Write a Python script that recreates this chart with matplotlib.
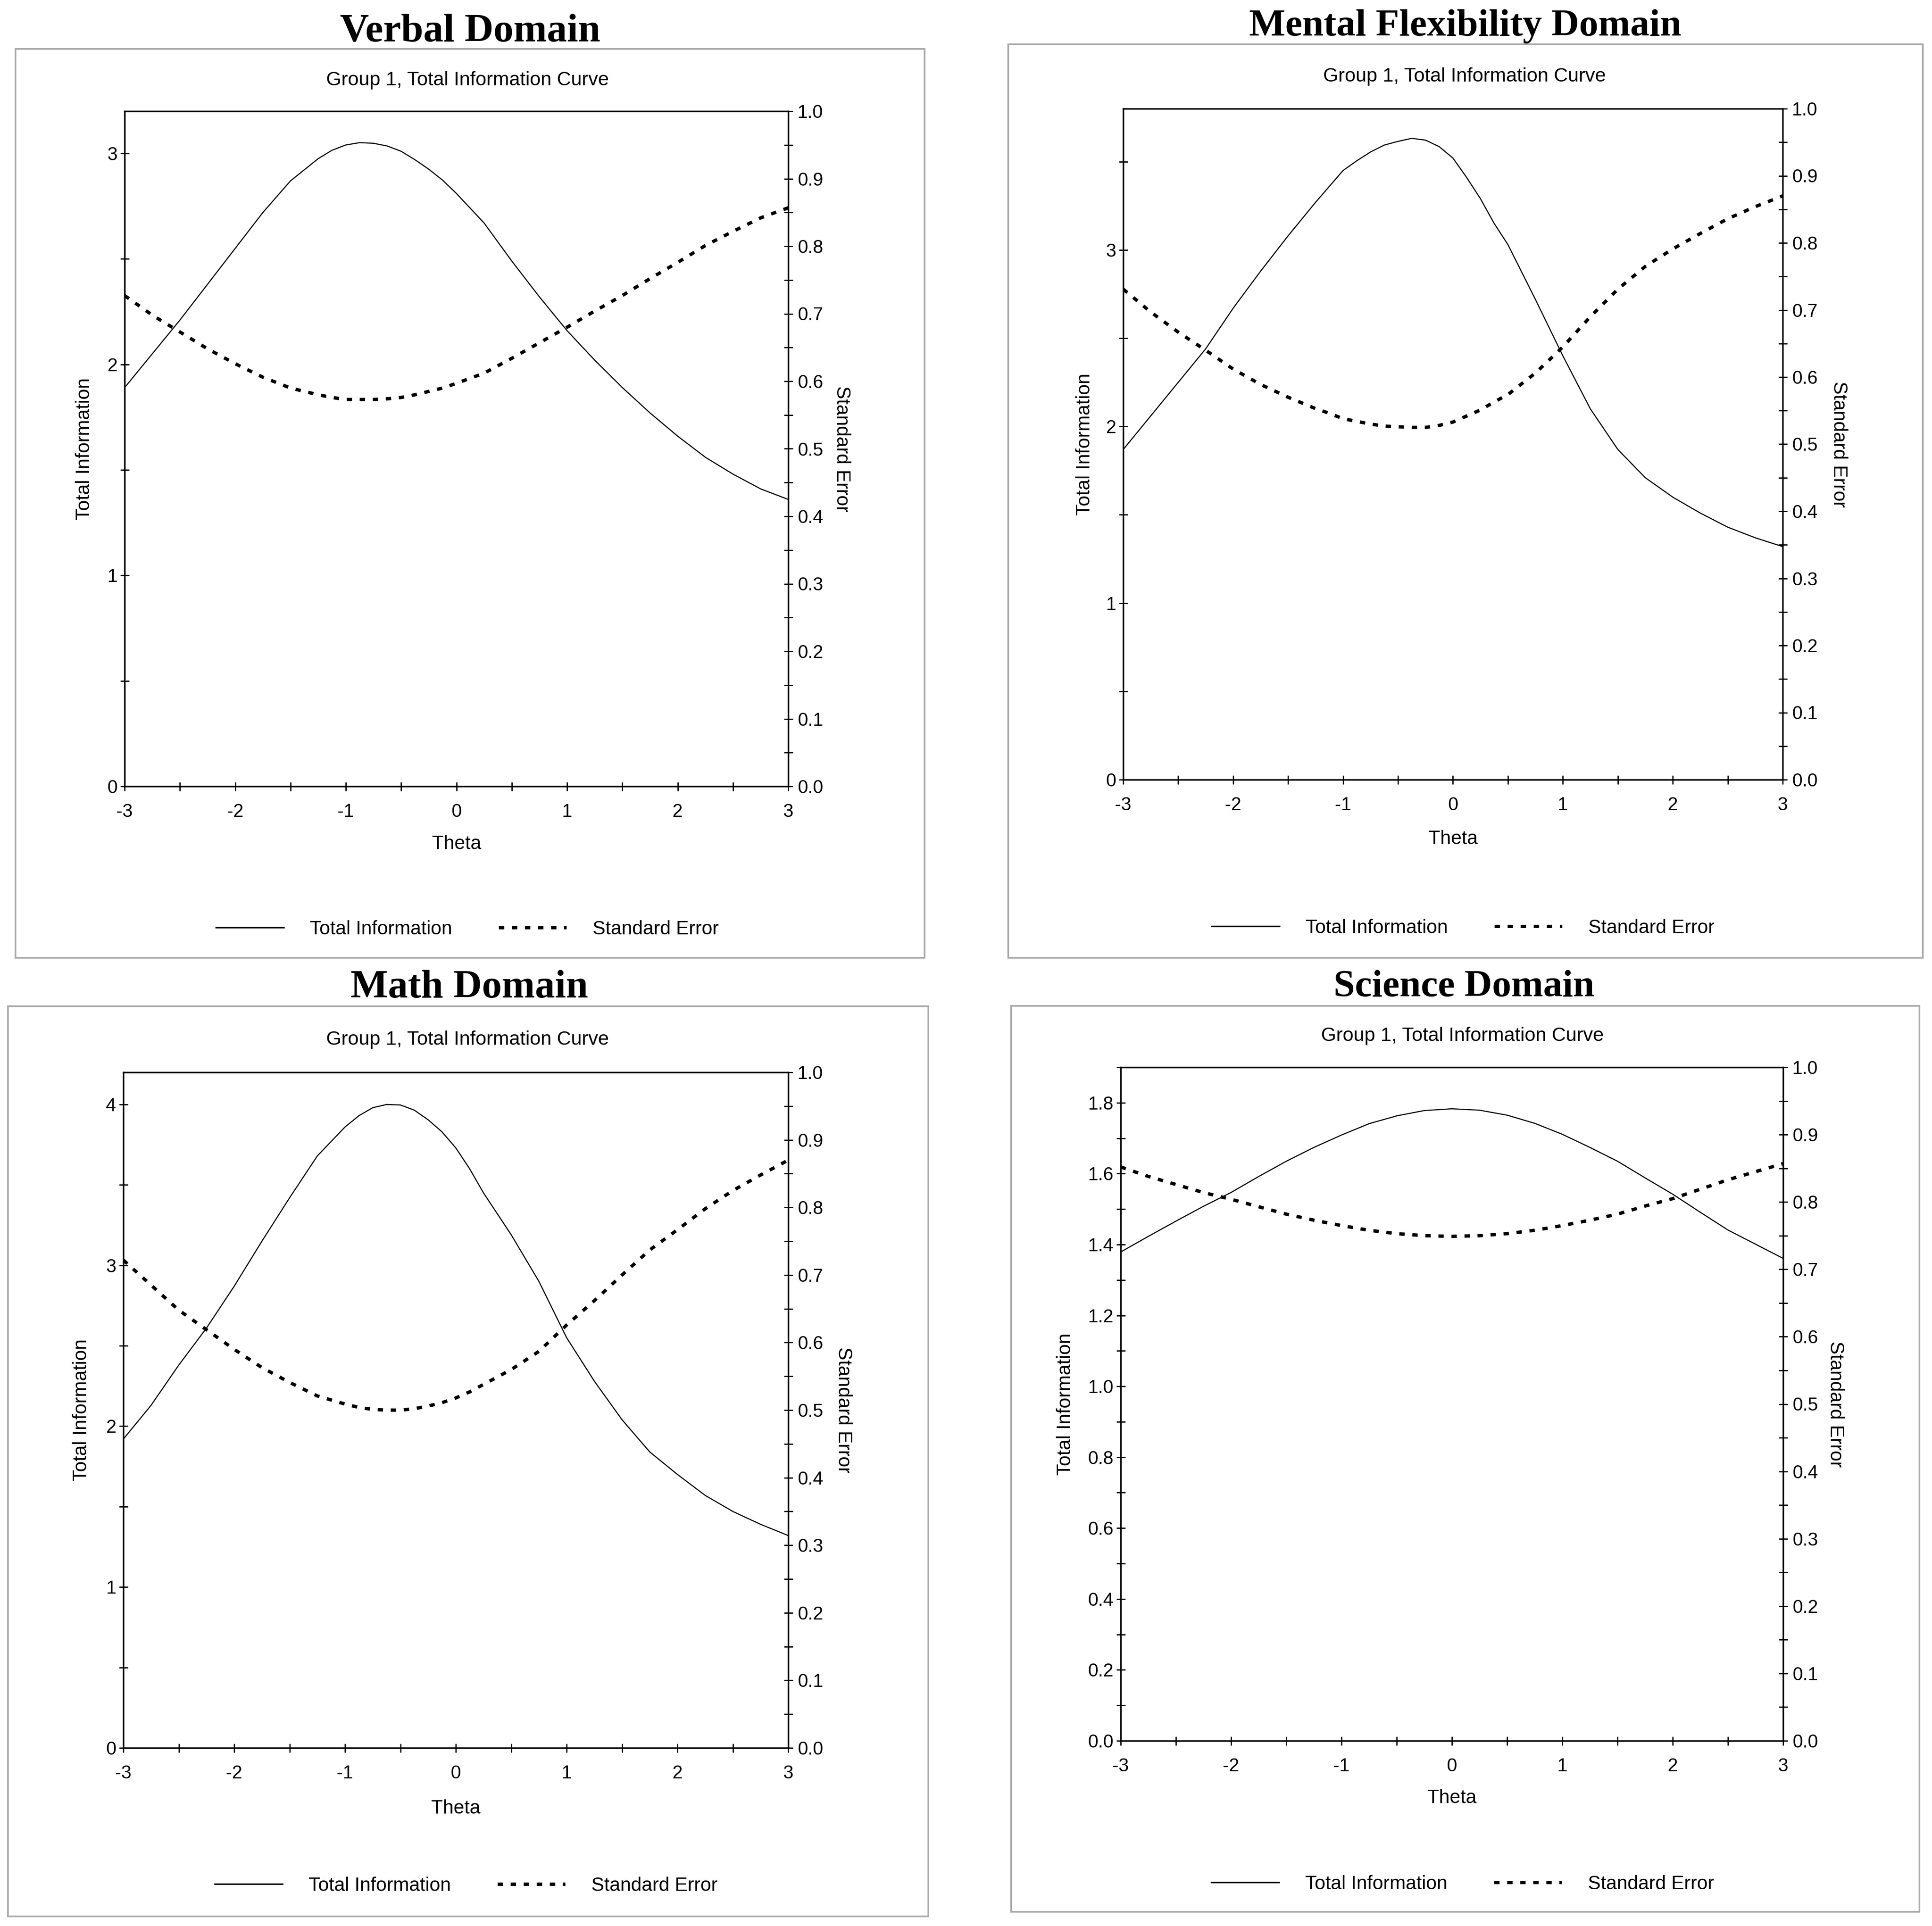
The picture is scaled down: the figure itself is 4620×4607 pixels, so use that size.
import matplotlib
matplotlib.use("Agg")
import matplotlib.pyplot as plt
from matplotlib import font_manager as fm
from matplotlib.patches import Rectangle
from matplotlib.lines import Line2D
from matplotlib.ticker import MultipleLocator, FormatStrFormatter

# ---------------- data ----------------
verbal_theta = [-3.0, -2.75, -2.5, -2.25, -2.0, -1.75, -1.5, -1.25, -1.125, -1.0, -0.875, -0.75,
                -0.625, -0.5, -0.375, -0.25, -0.125, 0.0, 0.25, 0.5, 0.75, 1.0, 1.25, 1.5,
                1.75, 2.0, 2.25, 2.5, 2.75, 3.0]
verbal_info = [1.89, 2.05, 2.21, 2.38, 2.55, 2.72, 2.87, 2.975, 3.015, 3.04, 3.051, 3.048,
               3.035, 3.01, 2.97, 2.925, 2.873, 2.81, 2.67, 2.49, 2.32, 2.16, 2.02, 1.89,
               1.77, 1.66, 1.56, 1.48, 1.41, 1.36]
verbal_se = [0.727, 0.698, 0.673, 0.648, 0.626, 0.606, 0.590, 0.580, 0.576, 0.573, 0.573, 0.573,
             0.574, 0.576, 0.580, 0.585, 0.590, 0.597, 0.612, 0.634, 0.657, 0.680, 0.704, 0.727,
             0.752, 0.776, 0.801, 0.822, 0.842, 0.857]

mental_theta = [-3.0, -2.75, -2.5, -2.25, -2.0, -1.75, -1.5, -1.25, -1.125, -1.0, -0.875, -0.75,
                -0.625, -0.5, -0.375, -0.25, -0.125, 0.0, 0.125, 0.25, 0.375, 0.5, 0.75, 1.0,
                1.25, 1.5, 1.75, 2.0, 2.25, 2.5, 2.75, 3.0]
mental_info = [1.87, 2.06, 2.25, 2.44, 2.67, 2.88, 3.08, 3.27, 3.36, 3.45, 3.505, 3.555,
               3.594, 3.615, 3.632, 3.622, 3.585, 3.52, 3.41, 3.29, 3.15, 3.03, 2.72, 2.40,
               2.10, 1.87, 1.71, 1.60, 1.51, 1.43, 1.37, 1.32]
mental_se = [0.731, 0.697, 0.667, 0.640, 0.612, 0.589, 0.570, 0.553, 0.546, 0.538, 0.534, 0.530,
             0.527, 0.526, 0.525, 0.525, 0.528, 0.533, 0.542, 0.551, 0.563, 0.574, 0.606, 0.645,
             0.690, 0.731, 0.765, 0.791, 0.814, 0.836, 0.854, 0.870]

math_theta = [-3.0, -2.75, -2.5, -2.25, -2.0, -1.75, -1.5, -1.25, -1.0, -0.875, -0.75, -0.625,
              -0.5, -0.375, -0.25, -0.125, 0.0, 0.125, 0.25, 0.5, 0.75, 1.0, 1.25, 1.5,
              1.75, 2.0, 2.25, 2.5, 2.75, 3.0]
math_info = [1.92, 2.13, 2.38, 2.61, 2.87, 3.15, 3.42, 3.68, 3.86, 3.93, 3.98, 4.00,
             3.997, 3.965, 3.905, 3.83, 3.73, 3.60, 3.45, 3.19, 2.90, 2.55, 2.28, 2.04,
             1.84, 1.70, 1.57, 1.47, 1.39, 1.32]
math_se = [0.722, 0.685, 0.648, 0.619, 0.590, 0.563, 0.541, 0.521, 0.509, 0.504, 0.501, 0.500,
           0.500, 0.502, 0.506, 0.511, 0.518, 0.527, 0.538, 0.560, 0.587, 0.626, 0.662, 0.700,
           0.737, 0.767, 0.798, 0.825, 0.848, 0.870]

science_theta = [-3.0, -2.75, -2.5, -2.25, -2.0, -1.75, -1.5, -1.25, -1.0, -0.75, -0.5, -0.25,
                 0.0, 0.25, 0.5, 0.75, 1.0, 1.25, 1.5, 1.75, 2.0, 2.25, 2.5, 2.75, 3.0]
science_info = [1.379, 1.423, 1.466, 1.508, 1.547, 1.592, 1.635, 1.674, 1.709, 1.741, 1.763, 1.778,
                1.783, 1.779, 1.765, 1.742, 1.711, 1.674, 1.635, 1.588, 1.542, 1.491, 1.441, 1.401, 1.361]
science_se = [0.852, 0.838, 0.826, 0.814, 0.804, 0.793, 0.782, 0.773, 0.765, 0.758, 0.753, 0.750,
              0.749, 0.750, 0.753, 0.758, 0.765, 0.773, 0.782, 0.794, 0.805, 0.819, 0.833, 0.845, 0.857]

titles = ["Verbal Domain", "Mental Flexibility Domain", "Math Domain", "Science Domain"]
subtitle = "Group 1, Total Information Curve"
x_label = "Theta"
left_label = "Total Information"
right_label = "Standard Error"
legend_labels = ["Total Information", "Standard Error"]

theta_series = [verbal_theta, mental_theta, math_theta, science_theta]
info_series = [verbal_info, mental_info, math_info, science_info]
se_series = [verbal_se, mental_se, math_se, science_se]

# left-axis scale per panel: (ymax, major step, minor step, label format)
left_scales = [(3.2, 1, 0.5, "%d"), (3.8, 1, 0.5, "%d"),
               (4.2, 1, 0.5, "%d"), (1.9, 0.2, 0.1, "%.1f")]

# ---------------- layout (pixels, origin top-left) ----------------
W, H, DPI = 4620, 4607, 100
frames = [(37, 117, 2211, 2291), (2411, 106, 4598, 2291),
          (19, 2407, 2220, 4584), (2418, 2406, 4590, 4573)]
axes_px = [(298, 266, 1885, 1881), (2686, 260, 4263, 1865),
           (295, 2565, 1885, 4181), (2680, 2553, 4264, 4164)]
title_pos = [(1124, 99), (3504, 85), (1122, 2386), (3501, 2383)]
title_size = [69, 66, 68.5, 66]
subtitle_pos = [(1118, 192), (3502, 183), (1118, 2487), (3497, 2478)]
legend_pos = [(1118, 2223), (3499, 2220), (1115, 4511), (3498, 4507)]
label_off = [(-96, 128, 138), (-92, 134, 142), (-100, 132, 145), (-132, 125, 137)]


def has_font(name):
    try:
        fm.findfont(fm.FontProperties(family=name), fallback_to_default=False)
        return True
    except Exception:
        return False


if has_font("Liberation Sans Narrow"):
    sans = "Liberation Sans Narrow"
    k = 1.0
else:
    sans = "Liberation Sans"
    k = 0.86

plt.rcParams["font.family"] = [sans, "DejaVu Sans"]
plt.rcParams["axes.unicode_minus"] = False

fs_tick = 37 * k
fs_text = 38.5 * k
fs_px = fs_text * DPI / 72.0

fig = plt.figure(figsize=(W / DPI, H / DPI), dpi=DPI)
fig.patch.set_facecolor("white")

PX = 72.0 / DPI  # points per pixel
spine_lw = 3.4 * PX
solid_lw = 2.6 * PX
dash_lw = 8.0 * PX
dash_pat = (1.6, 2.3)


def fx(x):
    return x / W


def fy(y):
    return 1 - y / H


for i in range(4):
    l, t, r, b = frames[i]
    fig.add_artist(Rectangle((fx(l), fy(b)), (r - l) / W, (b - t) / H,
                             transform=fig.transFigure, fill=False,
                             edgecolor="#a9a9a9", lw=4 * PX))

    al, at, ar, ab = axes_px[i]
    aw, ah = ar - al, ab - at
    ax = fig.add_axes([fx(al), fy(ab), aw / W, ah / H])
    ax2 = ax.twinx()

    ax.plot(theta_series[i], info_series[i], color="black", lw=solid_lw,
            solid_joinstyle="round")
    ax2.plot(theta_series[i], se_series[i], color="black", lw=dash_lw,
             dashes=dash_pat, dash_capstyle="butt")

    ymax, maj, mnr, fmt = left_scales[i]
    ax.set_xlim(-3, 3)
    ax.set_ylim(0, ymax)
    ax2.set_ylim(0, 1.0)

    ax.xaxis.set_major_locator(MultipleLocator(1))
    ax.xaxis.set_minor_locator(MultipleLocator(0.5))
    ax.yaxis.set_major_locator(MultipleLocator(maj))
    ax.yaxis.set_minor_locator(MultipleLocator(mnr))
    ax.yaxis.set_major_formatter(FormatStrFormatter(fmt))
    ax.xaxis.set_major_formatter(FormatStrFormatter("%d"))
    ax2.yaxis.set_major_locator(MultipleLocator(0.1))
    ax2.yaxis.set_minor_locator(MultipleLocator(0.05))
    ax2.yaxis.set_major_formatter(FormatStrFormatter("%.1f"))

    for a in (ax, ax2):
        for s in a.spines.values():
            s.set_linewidth(spine_lw)
            s.set_color("black")

    tick_len = 21 * PX
    tick_w = 3.0 * PX
    ax.tick_params(axis="x", which="both", direction="inout", length=tick_len,
                   width=tick_w, labelsize=fs_tick, pad=22, top=False)
    ax.tick_params(axis="y", which="both", direction="inout", length=tick_len,
                   width=tick_w, labelsize=fs_tick, pad=4.7, right=False)
    ax2.tick_params(axis="y", which="both", direction="inout", length=tick_len,
                    width=tick_w, labelsize=fs_tick, pad=8.3)

    lo, ro, bo = label_off[i]
    ax.set_ylabel(left_label, fontsize=fs_text, va="center", ha="center")
    ax.yaxis.set_label_coords(lo / aw, 0.5)
    ax2.set_ylabel(right_label, fontsize=fs_text, rotation=270, va="center", ha="center")
    ax2.yaxis.set_label_coords(1 + ro / aw, 0.5)
    ax.set_xlabel(x_label, fontsize=fs_text, va="center", ha="center")
    ax.xaxis.set_label_coords(0.5, -bo / ah)

    handles = [Line2D([], [], color="black", lw=3.5 * PX),
               Line2D([], [], color="black", lw=dash_lw, dashes=dash_pat,
                      dash_capstyle="butt")]
    cx, cy = legend_pos[i]
    ax2.legend(handles, legend_labels, loc="center",
               bbox_to_anchor=(fx(cx), fy(cy)), bbox_transform=fig.transFigure,
               ncol=2, frameon=False, fontsize=fs_text,
               handlelength=162 / fs_px, handletextpad=62 / fs_px,
               columnspacing=112 / fs_px, borderpad=0, borderaxespad=0)

    tx, ty = title_pos[i]
    fig.text(fx(tx), fy(ty), titles[i], ha="center", va="baseline",
             fontsize=title_size[i], fontweight="bold",
             family=["Liberation Serif", "DejaVu Serif"])
    sx, sy = subtitle_pos[i]
    fig.text(fx(sx), fy(sy), subtitle, ha="center", va="center",
             fontsize=39 * k)

fig.savefig("out.png", dpi=DPI, facecolor="white")
